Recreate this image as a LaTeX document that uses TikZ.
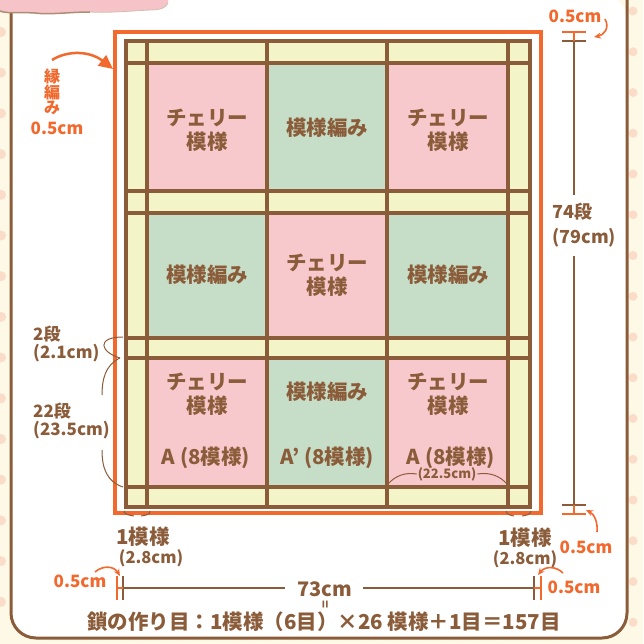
\documentclass[tikz,border=0pt]{standalone}
\usepackage{fontspec}
\setmainfont{Noto Sans CJK JP}
\usetikzlibrary{arrows.meta}
\definecolor{brn}{RGB}{139,92,58}
\definecolor{org}{RGB}{242,104,45}
\definecolor{pnk}{RGB}{248,201,204}
\definecolor{grn}{RGB}{198,222,199}
\definecolor{ylw}{RGB}{243,244,200}
\definecolor{crm}{RGB}{254,249,231}
\definecolor{dot}{RGB}{251,220,200}
\definecolor{cld}{RGB}{246,196,200}
\begin{document}
\begin{tikzpicture}[x=1pt,y=-1pt,
  blk/.style={text=brn,font=\fontsize{20.5}{24}\selectfont\bfseries,align=center,inner sep=0pt},
  lbl/.style={text=brn,font=\fontsize{17}{18.5}\selectfont\bfseries,align=left,inner sep=0pt},
  olbl/.style={text=org,font=\fontsize{17}{18}\selectfont\bfseries,inner sep=0pt},
  gridline/.style={draw=brn,line width=3.5pt},
  thin/.style={draw=brn,line width=1pt},
  dimline/.style={draw=brn,line width=2pt},
  odim/.style={draw=org,line width=2.5pt},
  oarrow/.style={draw=org,line width=1.6pt,-{Stealth[length=7pt,width=6pt]}}]
\useasboundingbox (0,0) rectangle (643,644);
% background
\fill[crm] (0,0) rectangle (643,644);
\foreach \k in {0,...,15} {\fill[dot] (633,11+40.75*\k) circle (4.5);}
\foreach \k in {0,...,14} {\fill[dot] (1,32+40.7*\k) circle (5);}
\fill[white,rounded corners=25pt] (11,-5) -- (11,638) -- (627,638) -- (627,-5) -- cycle;
\draw[brn,line width=3pt,rounded corners=25pt] (11,-5) -- (11,638) -- (627,638) -- (627,-5);
% cloud
\fill[cld] (0,0) -- (168,0) -- (168,3) .. controls (166,8) and (160,10) .. (150,10) .. controls (130,11) and (110,13) .. (90,12) .. controls (70,12) and (50,15) .. (35,13) .. controls (20,12) and (8,14) .. (0,12) -- cycle;
\draw[brn!70,line width=1.5pt] (0,11) .. controls (8,14) and (20,12) .. (35,13) .. controls (50,15) and (70,12) .. (90,12);
\draw[brn!40,line width=0.8pt] (90,12) .. controls (110,13) and (130,11) .. (150,10) .. controls (160,10) and (166,8) .. (168,3);
% orange frame
\draw[org,line width=4pt] (115,32) rectangle (541,513);
% grid fills
\fill[ylw] (126,41) rectangle (530,507);
\fill[pnk] (147,63) rectangle (267,191);
\fill[grn] (267,63) rectangle (387,191);
\fill[pnk] (387,63) rectangle (508,191);
\fill[grn] (147,213) rectangle (267,338);
\fill[pnk] (267,213) rectangle (387,338);
\fill[grn] (387,213) rectangle (508,338);
\fill[pnk] (147,358) rectangle (267,487);
\fill[grn] (267,358) rectangle (387,487);
\fill[pnk] (387,358) rectangle (508,487);
\foreach \x in {147,267,387,508} {\draw[gridline] (\x,41) -- (\x,507);}
\foreach \y in {63,191,213,338,358,487} {\draw[gridline] (126,\y) -- (530,\y);}
\draw[gridline] (126,41) rectangle (530,507);
% block labels
\node[blk] (b11) at (207,130) {チェリー\\模様};
\node[blk] (b12) at (327,128) {模様編み};
\node[blk] (b13) at (448,130) {チェリー\\模様};
\node[blk] (b21) at (207,275) {模様編み};
\node[blk] (b22) at (327,275) {チェリー\\模様};
\node[blk] (b23) at (448,275) {模様編み};
\node[blk] (b31) at (207,394) {チェリー\\模様};
\node[blk] (b32) at (327,392) {模様編み};
\node[blk] (b33) at (448,394) {チェリー\\模様};
\node[blk] (a1) at (206,458) {A (8模様)};
\node[blk] (a2) at (327,458) {A' (8模様)};
\node[blk] (a3) at (451,458) {A (8模様)};
\node[text=brn,font=\fontsize{13}{14}\selectfont\bfseries,inner sep=1pt] (w) at (447,474) {(22.5cm)};
\draw[thin] (388,484) .. controls (395,476) and (405,472) .. (w.west);
\draw[thin] (w.east) .. controls (490,472) and (500,476) .. (507,484);
% left labels
\node[text=org,font=\fontsize{16}{15.5}\selectfont\bfseries,align=center,inner sep=0pt] (fuchi) at (52,92) {縁\\編\\み};
\node[olbl] (o1) at (57,128) {0.5cm};
\coordinate (c1) at (113,69);
\draw[org,line width=2.5pt,-{Triangle[length=14pt,width=13pt]}] (52,60) .. controls (68,50) and (90,51) .. (c1);
\node[lbl,anchor=west] (l2) at (33,344) {2段\\(2.1cm)};
\node[lbl,anchor=west] (l22) at (33,421) {22段\\(23.5cm)};
\draw[thin] (123,337) .. controls (96,337) and (100,352) .. (120,358);
\draw[thin] (120,358) .. controls (105,365) and (102,380) .. (102,395);
\draw[thin] (102,450) .. controls (102,470) and (108,482) .. (123,487);
% right dimension
\coordinate (rt) at (574,41);
\coordinate (rb) at (574,505);
\node[text=brn,font=\fontsize{18}{25}\selectfont\bfseries,align=left,inner sep=0pt,anchor=west] (l74) at (552,225) {74段\\(79cm)};
\draw[dimline] (rt) -- (574,195);
\draw[dimline] (574,256) -- (rb);
\draw[dimline] (562,41) -- (586,41);
\draw[dimline] (562,505) -- (586,505);
\draw[odim] (562,32) -- (586,32);
\draw[odim] (562,514) -- (586,514);
\draw[org,line width=2pt] (574,32) -- (rt);
\draw[org,line width=2pt] (574,514) -- (rb);
\node[olbl] (o2) at (575,16) {0.5cm};
\draw[oarrow] (605,19) .. controls (610,28) and (604,35) .. (594,37);
\node[olbl] (o3) at (586,547) {0.5cm};
\draw[oarrow] (597,532) .. controls (598,522) and (594,514) .. (586,510);
% bottom labels
\node[text=brn,font=\fontsize{20.5}{22}\selectfont\bfseries,inner sep=0pt] (m1) at (143,537) {1模様};
\node[text=brn,font=\fontsize{16.5}{18}\selectfont\bfseries,inner sep=0pt] (m1c) at (151,558) {(2.8cm)};
\node[text=brn,font=\fontsize{20.5}{22}\selectfont\bfseries,inner sep=0pt] (m2) at (525,538) {1模様};
\node[text=brn,font=\fontsize{16.5}{18}\selectfont\bfseries,inner sep=0pt] (m2c) at (525,559) {(2.8cm)};
\draw[thin] (124,511) .. controls (125,515) and (129,515) .. (134,516);
\draw[thin] (141,516) .. controls (146,515) and (150,515) .. (150,511);
\draw[thin] (506,511) .. controls (507,515) and (510,515) .. (514,516);
\draw[thin] (522,516) .. controls (527,515) and (530,515) .. (531,511);
% bottom dimension
\node[text=brn,font=\fontsize{20}{22}\selectfont\bfseries,inner sep=0pt] (d73) at (325,589) {73cm};
\coordinate (bl) at (123,588);
\coordinate (br) at (534,588);
\draw[dimline] (bl) -- (285,588);
\draw[dimline] (363,588) -- (br);
\draw[dimline] (123,576) -- (123,600);
\draw[dimline] (534,576) -- (534,600);
\draw[odim] (117,576) -- (117,600);
\draw[odim] (541,576) -- (541,600);
\draw[org,line width=2pt] (117,588) -- (bl);
\draw[org,line width=2pt] (541,588) -- (br);
\node[olbl] (o4) at (80,581) {0.5cm};
\draw[oarrow] (95,572) .. controls (103,565) and (114,566) .. (120,576);
\node[olbl] (o5) at (574,587) {0.5cm};
\draw[oarrow] (563,573) .. controls (556,566) and (545,566) .. (538,575);
\node[text=brn,font=\fontsize{13}{14}\selectfont\bfseries,inner sep=0pt,rotate=90] (eq) at (327,605) {=};
\node[text=brn,font=\fontsize{20.5}{22}\selectfont\bfseries,inner sep=0pt] (formula) at (324,622) {鎖の作り目：1模様（6目）×26 模様＋1目＝157目};
\end{tikzpicture}
\end{document}
